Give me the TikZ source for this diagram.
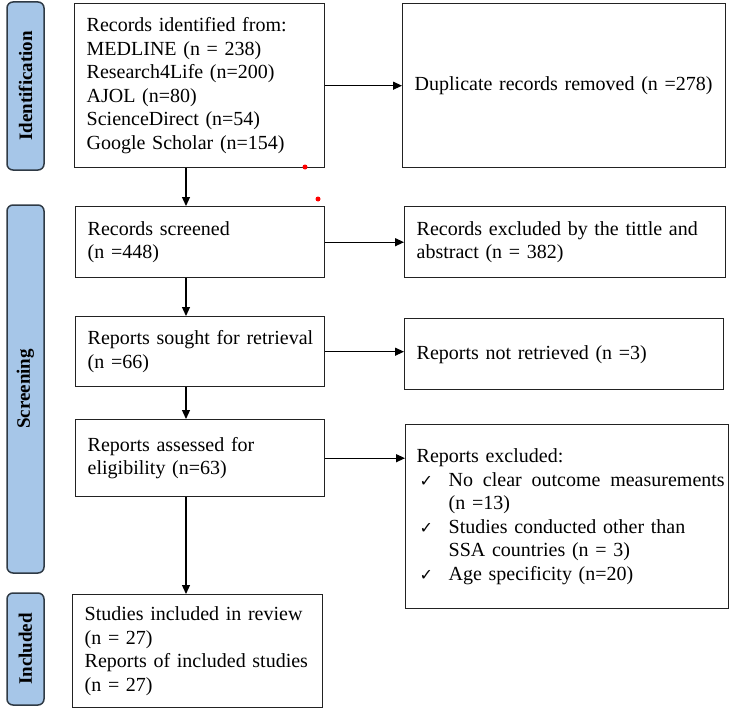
\documentclass[tikz,border=0pt]{standalone}
\usepackage{fontspec}
\setmainfont{Liberation Serif}
\newfontfamily\symfont{DejaVu Sans}
\usetikzlibrary{arrows.meta}
\definecolor{tabfill}{HTML}{A6C6E8}
\definecolor{tabline}{HTML}{2F3A45}
\definecolor{boxline}{HTML}{222222}
\begin{document}
\begin{tikzpicture}[x=1pt,y=-1pt,
 box/.style={draw=boxline, line width=1.4pt, anchor=north west, inner xsep=12pt, inner ysep=0pt, align=left, font=\fontsize{20}{23.5}\selectfont},
 tabbox/.style={draw=tabline, fill=tabfill, line width=1.5pt, rounded corners=6pt, rotate=90, inner sep=0pt, font=\fontsize{19}{22}\selectfont\bfseries},
 arr/.style={-{Triangle[length=9pt,width=8pt]}, line width=1.2pt, draw=black}]
\path[use as bounding box] (0,0) rectangle (731,709);

% phase tabs
\node[tabbox, minimum width=168pt, minimum height=37pt] (t1) at (25.5,86) {Identification};
\node[tabbox, minimum width=368pt, minimum height=37pt] (t2) at (25.5,389) {Screening};
\node[tabbox, minimum width=112pt, minimum height=37pt] (t3) at (25.5,649) {Included};

% left column
\node[box, text width=226pt, minimum height=164pt] (b1) at (74,3) {Records identified from:\\MEDLINE (n = 238)\\Research4Life (n=200)\\AJOL (n=80)\\ScienceDirect (n=54)\\Google Scholar (n=154)};
\node[box, text width=225pt, minimum height=71pt] (b2) at (75,206) {Records screened\\(n =448)};
\node[box, text width=225pt, minimum height=70pt] (b3) at (75,316) {\mbox{Reports sought for retrieval}\\(n =66)};
\node[box, text width=225pt, minimum height=77pt] (b4) at (75,419) {Reports assessed  for\\eligibility (n=63)};
\node[box, text width=226pt, minimum height=113pt] (b5) at (72,594) {Studies included in review\\(n = 27)\\Reports of included studies\\(n = 27)};

% right column
\node[box, text width=299pt, minimum height=164pt] (dup) at (402,3) {Duplicate records removed (n =278)};
\node[box, text width=297pt, minimum height=71pt] (ex1) at (404,206) {Records excluded by the tittle and\\abstract (n = 382)};
\node[box, text width=295pt, minimum height=71pt] (ex2) at (404,318) {Reports not retrieved (n =3)};
\node[box, inner xsep=11pt, text width=301pt, minimum height=184pt] (ex3) at (405,424) {Reports excluded:\\
\hspace*{3pt}\makebox[29pt][l]{\symfont\fontsize{16}{20}\selectfont ✓}\makebox[276pt][l]{No\hfill clear\hfill outcome\hfill measurements}\\
\hspace*{32pt}(n =13)\\
\hspace*{3pt}\makebox[29pt][l]{\symfont\fontsize{16}{20}\selectfont ✓}Studies conducted other than\\
\hspace*{32pt}SSA countries (n = 3)\\
\hspace*{3pt}\makebox[29pt][l]{\symfont\fontsize{16}{20}\selectfont ✓}Age specificity (n=20)};

% connectors
\coordinate (ax) at (186,0);
\draw[arr] (b1.south -| ax) -- (b2.north -| ax);
\draw[arr] (b2.south -| ax) -- (b3.north -| ax);
\draw[arr] (b3.south -| ax) -- (b4.north -| ax);
\draw[arr] (b4.south -| ax) -- (b5.north -| ax);
\draw[arr] (b1.east) -- (dup.west);
\draw[arr] (b2.east) -- (ex1.west);
\draw[arr] (b3.east) -- (b3.east -| ex2.west);
\draw[arr] (b4.east) -- (b4.east -| ex3.west);

% stray red marks
\fill[red] (305,167) circle (2.5pt);
\fill[red] (318,199) circle (2.5pt);
\end{tikzpicture}
\end{document}
